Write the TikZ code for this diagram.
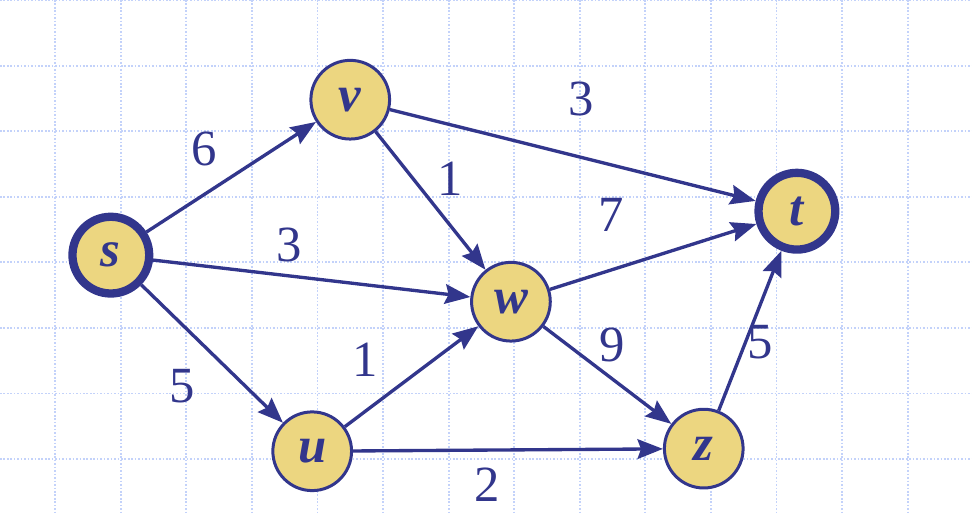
\documentclass[tikz,border=0pt]{standalone}
\usepackage{fontspec}
\setmainfont{Liberation Serif}
\usetikzlibrary{arrows.meta,positioning}

\definecolor{nodefill}{RGB}{236,214,128}
\definecolor{edgeblue}{RGB}{50,54,140}
\definecolor{gridblue}{RGB}{195,210,250}

\begin{document}
\begin{tikzpicture}[
  vertex/.style={circle,draw=edgeblue,fill=nodefill,line width=1.3pt,minimum size=1.2cm,inner sep=0pt,
    font=\fontsize{22}{26}\selectfont\bfseries\itshape,text=edgeblue},
  terminal/.style={vertex,line width=3.6pt,minimum size=1.17cm},
  edge/.style={draw=edgeblue,line width=1.45pt,-{Stealth[length=11pt,width=8.5pt,inset=1.5pt]}},
  weight/.style={font=\fontsize{22}{26}\selectfont,text=edgeblue,inner sep=0pt},
  gridline/.style={draw=gridblue,line width=0.8pt,dash pattern=on 0.7pt off 0.8pt}
]
\useasboundingbox (0,0) rectangle (14.82,-7.82);

% grid
\foreach \gx in {0,...,13}
  \draw[gridline] (0.84+\gx,0) -- (0.84+\gx,-7.82);
\foreach \gy in {0,...,7}
  \draw[gridline] (0,-\gy) -- (14.82,-\gy);

% vertices
\node[terminal] (s) at (1.69,-3.89) {s};
\node[vertex] (v) at (5.34,-1.52) {v};
\node[vertex] (w) at (7.79,-4.60) {w};
\node[vertex] (u) at (4.76,-6.88) {u};
\node[vertex] (z) at (10.73,-6.84) {z};
\node[terminal] (t) at (12.15,-3.22) {t};

% weighted edges
\draw[edge] (s) -- (v) node[weight,midway,xshift=-0.42cm,yshift=0.42cm] {6};
\draw[edge] (v) -- (t) node[weight,midway,xshift=0.13cm,yshift=0.86cm] {3};
\draw[edge] (v) -- (w) node[weight,midway,xshift=0.30cm,yshift=0.33cm] {1};
\draw[edge] (s) -- (w) node[weight,midway,xshift=-0.35cm,yshift=0.51cm] {3};
\draw[edge] (w) -- (t) node[weight,midway,xshift=-0.64cm,yshift=0.63cm] {7};
\draw[edge] (s) -- (u) node[weight,midway,xshift=-0.45cm,yshift=-0.49cm] {5};
\draw[edge] (u) -- (w) node[weight,midway,xshift=-0.71cm,yshift=0.25cm] {1};
\draw[edge] (w) -- (z) node[weight,midway,xshift=0.07cm,yshift=0.46cm] {9};
\draw[edge] (u) -- (z) node[weight,midway,xshift=-0.32cm,yshift=-0.53cm] {2};
\draw[edge] (z) -- (t) node[weight,midway,xshift=0.15cm,yshift=-0.18cm] {5};

\end{tikzpicture}
\end{document}
